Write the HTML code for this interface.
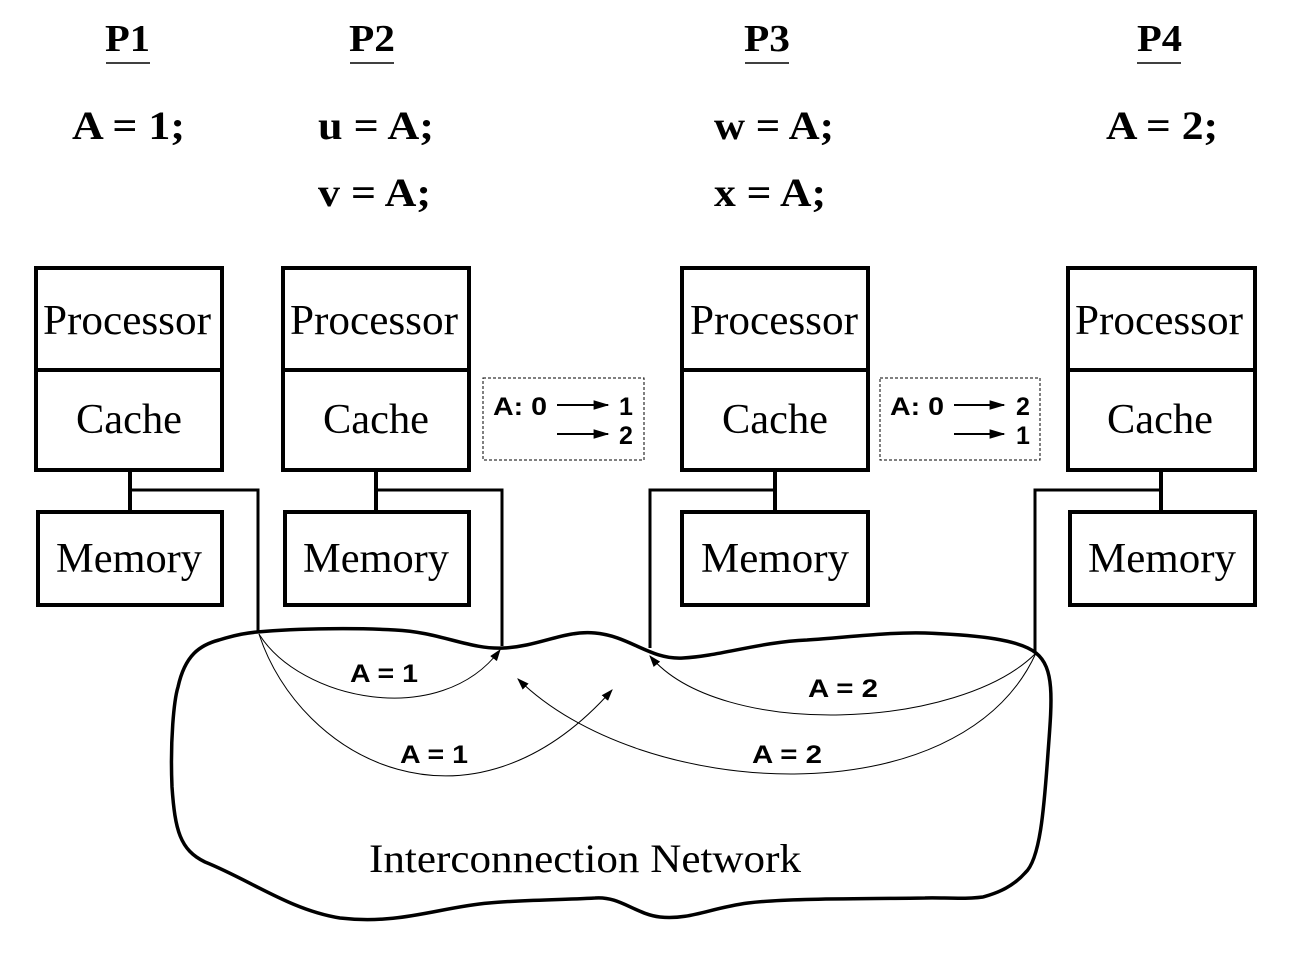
<!DOCTYPE html>
<html><head><style>body{margin:0;background:#fff}</style></head><body>
<svg width="1302" height="950" viewBox="0 0 1302 950" xmlns="http://www.w3.org/2000/svg">
<defs><marker id="ah" viewBox="0 0 10 10" refX="9" refY="5" markerWidth="12" markerHeight="12" markerUnits="userSpaceOnUse" orient="auto"><path d="M0,1.5 L10,5 L0,8.5 z" fill="#000"/></marker>
<marker id="ah2" viewBox="0 0 10 10" refX="9" refY="5" markerWidth="16" markerHeight="16" markerUnits="userSpaceOnUse" orient="auto"><path d="M0,2 L10,5 L0,8 z" fill="#000"/></marker></defs>
<g font-family="Liberation Serif, serif" font-weight="bold" font-size="38" fill="#000" lengthAdjust="spacingAndGlyphs">
<text x="105" y="51" textLength="45" lengthAdjust="spacingAndGlyphs">P1</text><text x="349" y="51" textLength="46" lengthAdjust="spacingAndGlyphs">P2</text><text x="744" y="51" textLength="46" lengthAdjust="spacingAndGlyphs">P3</text><text x="1137" y="51" textLength="45" lengthAdjust="spacingAndGlyphs">P4</text>
</g>
<g stroke="#000" stroke-width="1.5"><line x1="106" y1="63" x2="150" y2="63"/><line x1="350" y1="63" x2="394" y2="63"/><line x1="745" y1="63" x2="789" y2="63"/><line x1="1137" y1="63" x2="1181" y2="63"/></g>
<g font-family="Liberation Serif, serif" font-weight="bold" font-size="40" fill="#000">
<text x="72" y="139" textLength="113" lengthAdjust="spacingAndGlyphs">A = 1;</text>
<text x="318" y="139" textLength="116" lengthAdjust="spacingAndGlyphs">u = A;</text>
<text x="318" y="206" textLength="113" lengthAdjust="spacingAndGlyphs">v = A;</text>
<text x="714" y="139" textLength="120" lengthAdjust="spacingAndGlyphs">w = A;</text>
<text x="714" y="206" textLength="112" lengthAdjust="spacingAndGlyphs">x = A;</text>
<text x="1106" y="139" textLength="112" lengthAdjust="spacingAndGlyphs">A = 2;</text>
</g>
<g fill="none" stroke="#000" stroke-width="4">
<rect x="36" y="268" width="186" height="202"/><line x1="36" y1="370" x2="222" y2="370"/><rect x="38" y="512" width="184" height="93"/>
<rect x="283" y="268" width="186" height="202"/><line x1="283" y1="370" x2="469" y2="370"/><rect x="285" y="512" width="184" height="93"/>
<rect x="682" y="268" width="186" height="202"/><line x1="682" y1="370" x2="868" y2="370"/><rect x="682" y="512" width="186" height="93"/>
<rect x="1068" y="268" width="187" height="202"/><line x1="1068" y1="370" x2="1255" y2="370"/><rect x="1070" y="512" width="185" height="93"/>
<line x1="130" y1="470" x2="130" y2="512"/><line x1="376" y1="470" x2="376" y2="512"/><line x1="775" y1="470" x2="775" y2="512"/><line x1="1161" y1="470" x2="1161" y2="512"/>
</g>
<g fill="none" stroke="#000" stroke-width="3">
<polyline points="130,490 258,490 258,632"/><polyline points="376,490 502,490 502,646"/>
<polyline points="775,490 650,490 650,648"/><polyline points="1161,490 1035,490 1035,652"/>
</g>
<g font-family="Liberation Serif, serif" font-size="42" fill="#000">
<text x="43" y="334" textLength="168" lengthAdjust="spacingAndGlyphs">Processor</text><text x="76" y="433" textLength="106" lengthAdjust="spacingAndGlyphs">Cache</text><text x="56" y="572" textLength="146" lengthAdjust="spacingAndGlyphs">Memory</text>
<text x="290" y="334" textLength="168" lengthAdjust="spacingAndGlyphs">Processor</text><text x="323" y="433" textLength="106" lengthAdjust="spacingAndGlyphs">Cache</text><text x="303" y="572" textLength="146" lengthAdjust="spacingAndGlyphs">Memory</text>
<text x="690" y="334" textLength="168" lengthAdjust="spacingAndGlyphs">Processor</text><text x="722" y="433" textLength="106" lengthAdjust="spacingAndGlyphs">Cache</text><text x="701" y="572" textLength="148" lengthAdjust="spacingAndGlyphs">Memory</text>
<text x="1075" y="334" textLength="168" lengthAdjust="spacingAndGlyphs">Processor</text><text x="1107" y="433" textLength="106" lengthAdjust="spacingAndGlyphs">Cache</text><text x="1088" y="572" textLength="148" lengthAdjust="spacingAndGlyphs">Memory</text>
<text x="369" y="872" font-size="40" textLength="432" lengthAdjust="spacingAndGlyphs">Interconnection Network</text>
</g>
<g fill="none" stroke="#000" stroke-width="1" stroke-dasharray="3,2"><rect x="483" y="378" width="161" height="82"/><rect x="880" y="378" width="160" height="82"/></g>
<g font-family="Liberation Sans, sans-serif" font-weight="bold" font-size="25" fill="#000">
<text x="493" y="415" textLength="54" lengthAdjust="spacingAndGlyphs">A: 0</text><text x="619" y="415">1</text><text x="619" y="444">2</text>
<text x="890" y="415" textLength="54" lengthAdjust="spacingAndGlyphs">A: 0</text><text x="1016" y="415">2</text><text x="1016" y="444">1</text>
<text x="350" y="682" textLength="68" lengthAdjust="spacingAndGlyphs">A = 1</text>
<text x="400" y="763" textLength="68" lengthAdjust="spacingAndGlyphs">A = 1</text>
<text x="808" y="697" textLength="70" lengthAdjust="spacingAndGlyphs">A = 2</text>
<text x="752" y="763" textLength="70" lengthAdjust="spacingAndGlyphs">A = 2</text>
</g>
<g stroke="#000" stroke-width="2" fill="none">
<line x1="557" y1="405" x2="608" y2="405" marker-end="url(#ah2)"/><line x1="557" y1="434" x2="608" y2="434" marker-end="url(#ah2)"/>
<line x1="954" y1="405" x2="1004" y2="405" marker-end="url(#ah2)"/><line x1="954" y1="434" x2="1004" y2="434" marker-end="url(#ah2)"/>
</g>
<path d="M257,632 C300,628 360,628 395,630 C440,632 470,650 504,648 C540,646 565,630 595,633 C630,636 650,660 683,658 C720,656 760,642 807,640 C850,637 890,632 925,633 C980,635 1020,640 1036,653 C1055,668 1052,700 1048,753 C1044,810 1040,860 1025,873 C1010,890 990,895 983,897 C960,900 940,897 925,898 C860,899 790,898 748,903 C710,908 690,920 660,917 C635,914 620,896 595,898 C560,900 520,900 489,903 C440,907 400,925 340,918 C290,910 250,880 205,862 C180,850 175,830 172,787 C170,740 174,700 178,687 C185,655 200,645 219,640 C235,635 245,633 257,632 Z" fill="none" stroke="#000" stroke-width="3.5"/>
<g stroke="#000" stroke-width="1" fill="none">
<path d="M259,634 C300,700 440,730 500,650" marker-end="url(#ah)"/>
<path d="M259,634 C300,760 470,850 612,690" marker-end="url(#ah)"/>
<path d="M1036,653 C960,730 720,740 650,656" marker-end="url(#ah)"/>
<path d="M1036,653 C960,820 640,800 518,679" marker-end="url(#ah)"/>
</g>
</svg>
</body></html>
